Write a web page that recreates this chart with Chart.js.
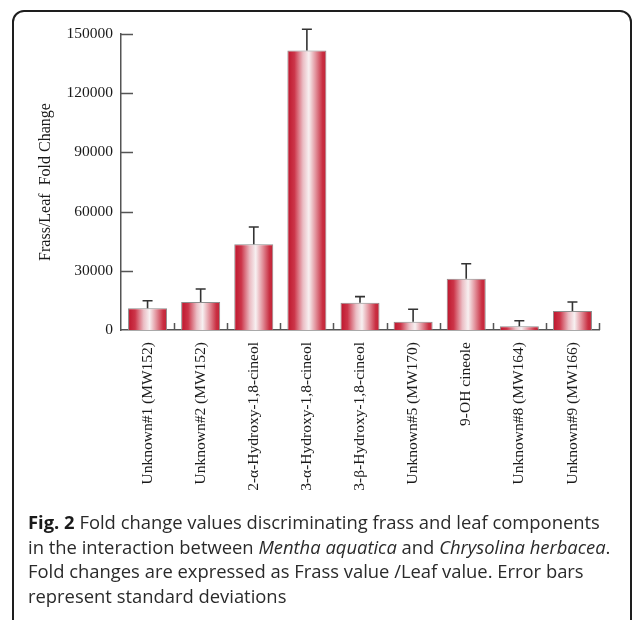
<!DOCTYPE html>
<html>
<head>
<meta charset="utf-8">
<script src="https://cdn.jsdelivr.net/npm/chart.js@4/dist/chart.umd.min.js"></script>
<style>
  html, body { margin: 0; padding: 0; background: #fff; }
  body { width: 634px; height: 620px; position: relative; overflow: hidden; }
  #frame {
    position: absolute; left: 12px; top: 10px; width: 620px; height: 700px;
    border: 2px solid #1e1e1e; border-radius: 12px; box-sizing: border-box;
  }
  #chart { position: absolute; left: 0; top: 0; }
  #caption {
    position: absolute; left: 28px; top: 510px; width: 604px;
    font-family: "Open Sans", sans-serif; font-size: 18.4px; line-height: 24.6px;
    color: #2a2a2a; white-space: nowrap;
  }
  #caption b { font-weight: 700; color: #1a1a1a; }
</style>
</head>
<body>
<div id="frame"></div>
<canvas id="chart" width="634" height="620"></canvas>
<div id="caption"><b>Fig. 2</b> Fold change values discriminating frass and leaf components<br>in the interaction between <i>Mentha aquatica</i> and <i>Chrysolina herbacea</i>.<br>Fold changes are expressed as Frass value /Leaf value. Error bars<br>represent standard deviations</div>
<script>
// Compounds compared between frass and leaf extracts
const categories = [
  'Unknown#1 (MW152)',
  'Unknown#2 (MW152)',
  '2-α-Hydroxy-1,8-cineol',
  '3-α-Hydroxy-1,8-cineol',
  '3-β-Hydroxy-1,8-cineol',
  'Unknown#5 (MW170)',
  '9-OH cineole',
  'Unknown#8 (MW164)',
  'Unknown#9 (MW166)'
];
// Mean frass/leaf fold change
const foldChange = [11000, 14200, 43400, 141600, 13800, 4200, 26000, 1900, 9600];
// Standard deviation of each fold change
const stdDev = [3800, 6600, 8800, 10800, 3100, 6300, 7600, 2800, 4600];
// Value axis ticks
const yTicks = [0, 30000, 60000, 90000, 120000, 150000];

const BAR_PCT = 0.735;
const AXIS_COLOR = '#555';

// Cylinder-like shading across each bar, built from the bar's own pixel span
function barGradient(c) {
  const chart = c.chart;
  const xs = chart.scales.x;
  if (!chart.chartArea || !xs || c.dataIndex === undefined) return '#c8283c';
  const cx = xs.getPixelForValue(c.dataIndex);
  const w = (xs.width / categories.length) * BAR_PCT;
  const g = chart.ctx.createLinearGradient(cx - w / 2, 0, cx + w / 2, 0);
  g.addColorStop(0.00, '#bd152c');
  g.addColorStop(0.18, '#cc3549');
  g.addColorStop(0.40, '#ebbdc4');
  g.addColorStop(0.55, '#f7f0f1');
  g.addColorStop(0.72, '#e3949e');
  g.addColorStop(0.90, '#c92f42');
  g.addColorStop(1.00, '#c22236');
  return g;
}

// Error whiskers with a flat cap, placed through the value scale
const errorBars = {
  id: 'errorBars',
  afterDatasetsDraw(chart) {
    const ctx = chart.ctx;
    const ys = chart.scales.y;
    const meta = chart.getDatasetMeta(0);
    ctx.save();
    ctx.strokeStyle = '#333';
    ctx.lineWidth = 1.6;
    meta.data.forEach((el, i) => {
      const x = el.x;
      const yTop = el.y;
      const yErr = ys.getPixelForValue(foldChange[i] + stdDev[i]);
      ctx.beginPath();
      ctx.moveTo(x, yTop);
      ctx.lineTo(x, yErr);
      ctx.moveTo(x - 5, yErr);
      ctx.lineTo(x + 5, yErr);
      ctx.stroke();
    });
    ctx.restore();
  }
};

// Inward-pointing tick marks on both axes
const innerTicks = {
  id: 'innerTicks',
  afterDraw(chart) {
    const ctx = chart.ctx;
    const ys = chart.scales.y;
    const xs = chart.scales.x;
    const area = chart.chartArea;
    ctx.save();
    ctx.strokeStyle = AXIS_COLOR;
    ctx.lineWidth = 1.5;
    ctx.beginPath();
    yTicks.forEach(v => {
      if (v === 0) return;
      const py = Math.round(ys.getPixelForValue(v)) + 0.5;
      ctx.moveTo(area.left, py);
      ctx.lineTo(area.left + 12, py);
    });
    for (let i = 1; i <= categories.length; i++) {
      const px = Math.round(xs.getPixelForValue(i - 0.5)) + 0.5;
      ctx.moveTo(px, area.bottom);
      ctx.lineTo(px, area.bottom - 7);
    }
    ctx.stroke();
    ctx.restore();
  }
};

Chart.defaults.font.family = '"Liberation Serif", "Times New Roman", serif';
Chart.defaults.color = '#1a1a1a';

new Chart(document.getElementById('chart'), {
  type: 'bar',
  data: {
    labels: categories,
    datasets: [{
      data: foldChange,
      backgroundColor: barGradient,
      borderColor: '#8d8d8d',
      borderWidth: 1,
      barPercentage: BAR_PCT,
      categoryPercentage: 1.0
    }]
  },
  options: {
    responsive: false,
    animation: false,
    events: [],
    layout: { padding: { left: 30, top: 34, right: 35, bottom: 0 } },
    plugins: { legend: { display: false }, tooltip: { enabled: false } },
    scales: {
      x: {
        offset: true,
        grid: { display: false, drawTicks: false },
        border: { display: true, color: AXIS_COLOR, width: 1.5 },
        ticks: {
          minRotation: 90, maxRotation: 90, autoSkip: false, padding: 12,
          font: { size: 15.5 }, color: '#1a1a1a'
        },
        afterFit(scale) { scale.height = 290; }
      },
      y: {
        min: 0, max: 150000,
        afterBuildTicks(scale) { scale.ticks = yTicks.map(v => ({ value: v })); },
        grid: { display: false, drawTicks: false },
        border: { display: true, color: AXIS_COLOR, width: 1.5 },
        ticks: {
          padding: 8, font: { size: 15.5 }, color: '#1a1a1a',
          callback: v => String(v)
        },
        title: {
          display: true, text: 'Frass/Leaf  Fold Change',
          font: { size: 16 }, color: '#1a1a1a', padding: { top: 6, bottom: 0 }
        },
        afterFit(scale) { scale.width = 91; }
      }
    }
  },
  plugins: [errorBars, innerTicks]
});
</script>
</body>
</html>
